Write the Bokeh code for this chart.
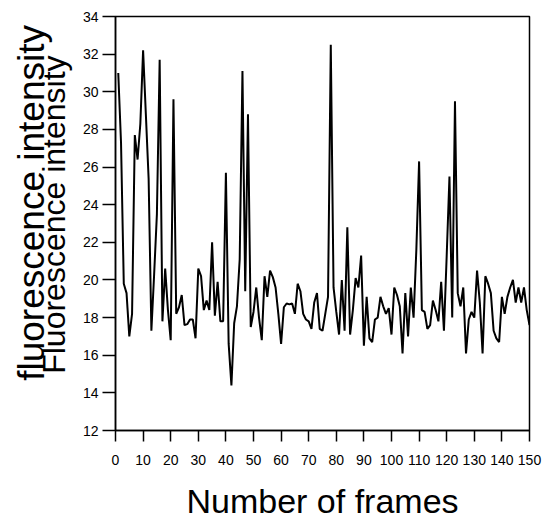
from bokeh.plotting import figure
from bokeh.models import Range1d, FixedTicker, Label, ColumnDataSource, LinearAxis
from bokeh.embed import file_html
from bokeh.resources import INLINE

frames = list(range(1, 151))
intensity = [
    31.0, 27.3, 19.8, 19.3, 17.0, 18.2, 27.7, 26.4, 28.3, 32.2,
    28.8, 25.4, 17.3, 20.3, 23.5, 31.7, 17.8, 20.6, 18.4, 16.8,
    29.6, 18.2, 18.55, 19.2, 17.6, 17.65, 17.9, 17.9, 16.9, 20.6,
    20.2, 18.4, 18.9, 18.4, 22.0, 18.1, 19.9, 17.8, 17.8, 25.7,
    16.6, 14.4, 17.7, 18.6, 21.1, 31.1, 19.4, 28.8, 17.5, 18.3,
    19.6, 18.0, 16.8, 20.2, 19.1, 20.5, 20.15, 19.6, 18.2, 16.6,
    18.55, 18.75, 18.7, 18.75, 18.2, 19.8, 19.4, 18.2, 17.9, 17.8,
    17.4, 18.8, 19.3, 17.4, 17.3, 18.2, 19.1, 32.5, 19.6, 18.3,
    17.1, 20.0, 17.3, 22.8, 17.1, 18.4, 20.1, 19.6, 21.3, 16.5,
    19.1, 16.9, 16.7, 17.9, 18.0, 19.1, 18.6, 18.2, 18.5, 17.1,
    19.6, 19.2, 18.6, 16.1, 19.3, 17.0, 19.6, 18.0, 21.6, 26.3,
    18.4, 18.3, 17.4, 17.6, 18.9, 18.4, 17.8, 19.9, 17.3, 21.3,
    25.5, 18.0, 29.5, 19.3, 18.6, 19.6, 16.1, 17.9, 18.3, 18.0,
    20.5, 18.8, 16.1, 20.2, 19.8, 19.3, 17.3, 16.9, 16.7, 19.1,
    18.2, 19.1, 19.6, 20.0, 18.8, 19.6, 18.8, 19.6, 18.4, 17.6,
]
x_ticks = list(range(0, 151, 10))
y_ticks = list(range(12, 35, 2))
x_title = "Number of frames"
y_title_1 = "fluorescence intensity"
y_title_2 = "Fluorescence intensity"

FONT = "Liberation Sans"

p = figure(width=542, height=513, output_backend="svg", toolbar_location=None,
           x_range=Range1d(0, 150), y_range=Range1d(12, 34),
           min_border_left=115, min_border_right=13, min_border_top=16,
           min_border_bottom=83)
p.background_fill_color = "white"
p.border_fill_color = "white"
p.grid.visible = False
p.outline_line_color = "black"
p.outline_line_width = 1.5
p.outline_line_alpha = 1.0

src = ColumnDataSource(dict(x=frames, y=intensity))
p.line("x", "y", source=src, line_color="black", line_width=2)

xa = p.xaxis[0]
xa.ticker = FixedTicker(ticks=x_ticks)
xa.major_label_text_font = FONT
xa.major_label_text_font_size = "14px"
xa.major_label_text_color = "black"
xa.major_label_standoff = 13
xa.major_tick_in = 0
xa.major_tick_out = 11
xa.major_tick_line_width = 1.5
xa.minor_tick_line_color = None
xa.axis_line_width = 1.5

ya = p.yaxis[0]
ya.ticker = FixedTicker(ticks=y_ticks)
ya.major_label_text_font = FONT
ya.major_label_text_font_size = "14px"
ya.major_label_text_color = "black"
ya.major_label_standoff = 4
ya.major_tick_in = 0
ya.major_tick_out = 13
ya.major_tick_line_width = 1.5
ya.minor_tick_line_color = None
ya.axis_line_width = 1.5
ya.axis_label = "\u00a0\u00a0" + y_title_2
ya.axis_label_text_font = FONT
ya.axis_label_text_font_size = "32px"
ya.axis_label_text_font_style = "normal"
ya.axis_label_text_color = "black"
ya.axis_label_standoff = 8

ya2 = LinearAxis(ticker=FixedTicker(ticks=[]), axis_line_color=None,
                 major_tick_line_color=None, minor_tick_line_color=None,
                 major_tick_out=0, major_tick_in=0,
                 axis_label="\u00a0\u00a0\u00a0\u00a0" + y_title_1,
                 axis_label_text_font=FONT, axis_label_text_font_size="37px",
                 axis_label_text_font_style="normal",
                 axis_label_text_color="black", axis_label_standoff=-19)
p.add_layout(ya2, "left")

xlab = Label(x=75, y=500, x_units="data", y_units="canvas", text=x_title,
             text_align="center", text_baseline="alphabetic",
             text_font=FONT, text_font_size="34px", text_color="black")
p.add_layout(xlab, "below")

open("out.html", "w").write(file_html(p, INLINE))
